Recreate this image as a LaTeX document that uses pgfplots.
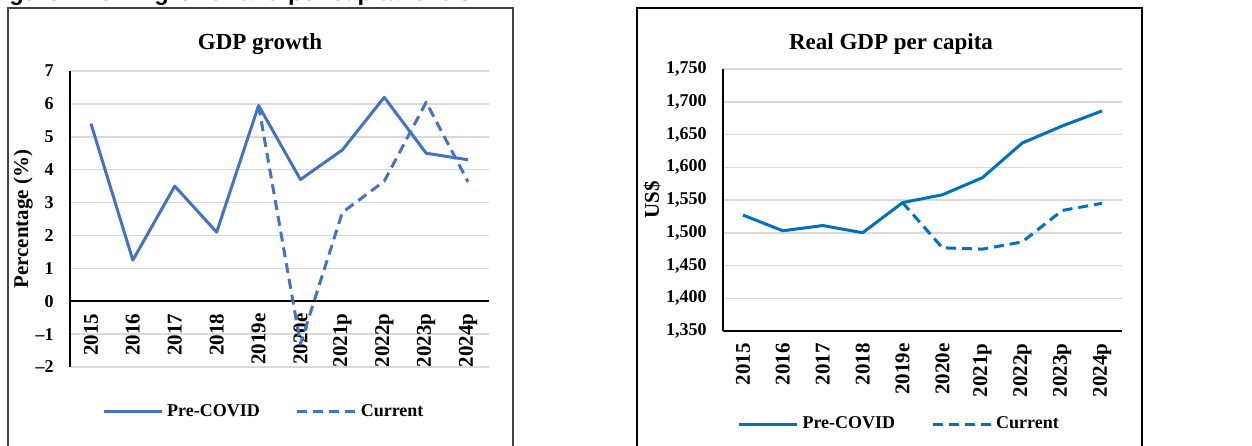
\documentclass[border=0pt]{standalone}
\usepackage{fontspec}
\setmainfont{Liberation Serif}
\newfontfamily\capfont{Liberation Sans}
\usepackage{pgfplots}
\pgfplotsset{compat=1.18}
\definecolor{lblue}{HTML}{4472C4}
\definecolor{rblue}{HTML}{0070C0}
\definecolor{gridc}{HTML}{D9D9D9}

\pgfplotsset{common/.style={
  scale only axis,
  xmin=-0.5, xmax=9.5,
  xtick={0,...,9},
  xticklabels={2015,2016,2017,2018,2019e,2020e,2021p,2022p,2023p,2024p},
  major tick length=0pt,
  ymajorgrids, grid style={gridc, line width=0.75pt},
  axis line style={line width=1pt, -},
  hide obscured x ticks=false, hide obscured y ticks=false,
  xticklabel style={rotate=90, anchor=east, font=\fontsize{10.5}{12}\selectfont\bfseries, inner sep=0pt},
  yticklabel style={font=\fontsize{9}{10}\selectfont\bfseries, anchor=east, inner sep=0pt, xshift=-8pt},
  xticklabel shift=6pt,
  ylabel style={font=\fontsize{10.5}{12}\selectfont\bfseries, anchor=center},
  legend style={draw=none, fill=none, font=\fontsize{9}{10}\selectfont\bfseries, anchor=center,
    /tikz/every even column/.append style={column sep=16pt}},
  legend columns=2,
  legend image code/.code={\draw[##1] (0pt,0pt) -- (29pt,0pt);},
  clip=false,
}}

\begin{document}
\begin{tikzpicture}
\useasboundingbox (0,0) rectangle (626pt,222.5pt);
% caption (partially cut off at the top, as in the source)
\node[anchor=base west, inner sep=0pt, font=\capfont\bfseries\fontsize{11.8}{13}\selectfont] at (-6pt,222pt) {Figure 2: GDP growth and per capita levels};
% frames
\draw[black!75, line width=0.6pt] (4pt,-5pt) -- (4pt,218.5pt) -- (256.5pt,218.5pt) -- (256.5pt,-5pt);
\draw[black, line width=1pt] (318.5pt,-5pt) -- (318.5pt,218.5pt) -- (571pt,218.5pt) -- (571pt,-5pt);
% titles
\node[anchor=base, font=\fontsize{11.5}{13}\selectfont\bfseries] at (130pt,197.5pt) {GDP growth};
\node[anchor=base, font=\fontsize{11.5}{13}\selectfont\bfseries] at (445.5pt,197.5pt) {Real GDP per capita};

\begin{axis}[common, at={(35pt,39pt)}, anchor=south west, width=209.5pt, height=148pt,
  ymin=-2, ymax=7, ytick={-2,...,7},
  yticklabels={\textendash2,\textendash1,0,1,2,3,4,5,6,7},
  axis x line*=middle, axis y line*=left,
  ylabel={Percentage (\%)},
  ylabel style={at={(axis description cs:-0.112,0.5)}},
  legend style={at={(0.465,-0.152)}}]
\addplot[lblue, line width=1.5pt, line join=round] coordinates {
 (0,5.4) (1,1.25) (2,3.5) (3,2.1) (4,5.95) (5,3.7) (6,4.6) (7,6.2) (8,4.5) (9,4.3)};
\addlegendentry{Pre-COVID}
\addplot[lblue, line width=1.5pt, line join=round, dash pattern=on 5pt off 3pt] coordinates {
 (4,5.95) (5,-1.3) (6,2.7) (7,3.65) (8,6.05) (9,3.63)};
\addlegendentry{Current}
\end{axis}

\begin{axis}[common, at={(361.5pt,57pt)}, anchor=south west, width=199.5pt, height=131pt,
  ymin=1350, ymax=1750, ytick={1350,1400,...,1750},
  yticklabels={{1,350},{1,400},{1,450},{1,500},{1,550},{1,600},{1,650},{1,700},{1,750}},
  axis x line*=bottom, axis y line*=left,
  ylabel={US\$},
  ylabel style={at={(axis description cs:-0.178,0.5)}},
  legend style={at={(0.444,-0.355)}}]
\addplot[rblue, line width=1.5pt, line join=round] coordinates {
 (0,1527) (1,1503) (2,1511) (3,1500) (4,1546) (5,1558) (6,1584) (7,1637) (8,1663) (9,1686)};
\addlegendentry{Pre-COVID}
\addplot[rblue, line width=1.5pt, line join=round, dash pattern=on 5pt off 3pt] coordinates {
 (4,1546) (5,1477) (6,1475) (7,1486) (8,1534) (9,1545)};
\addlegendentry{Current}
\end{axis}
\end{tikzpicture}
\end{document}
